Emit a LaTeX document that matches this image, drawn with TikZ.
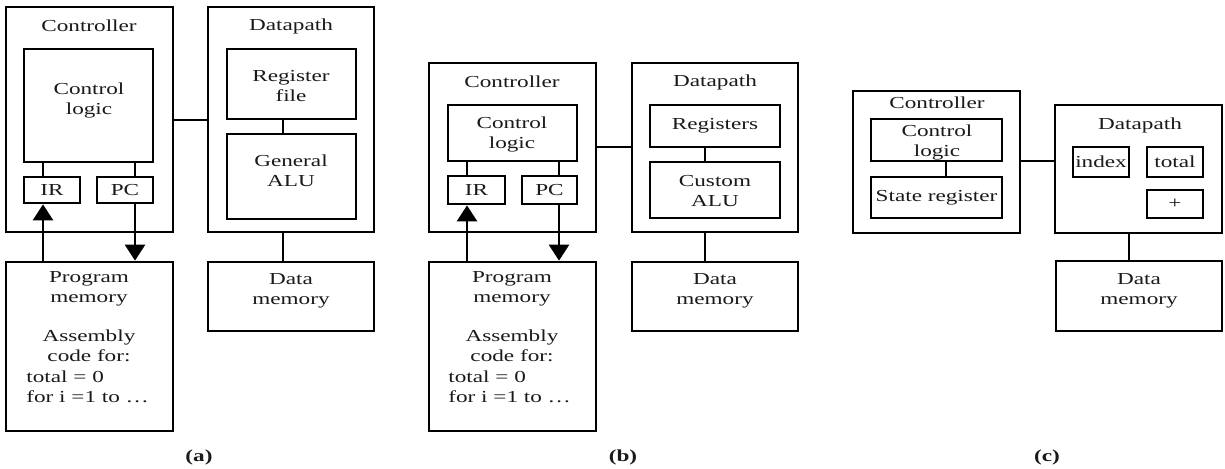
\documentclass[tikz,border=0pt]{standalone}
\usepackage{fontspec}
\setmainfont[FakeStretch=1.38]{Liberation Serif}
\usetikzlibrary{arrows.meta,fit}
\definecolor{ink}{HTML}{1A1A1A}
\begin{document}
\begin{tikzpicture}[x=0.5pt,y=-0.5pt,
  box/.style={draw=black, line width=1.35pt, inner sep=0pt},
  txt/.style={inner sep=0pt, text=ink, font=\fontsize{8.4pt}{10pt}\selectfont, align=center},
  ltxt/.style={txt, align=left, anchor=west},
  lbl/.style={inner sep=0pt, text=ink, font=\fontsize{8.4pt}{10pt}\selectfont\bfseries},
  wire/.style={draw=black, line width=1.3pt},
  arr/.style={wire, -{Triangle[width=10pt,length=8pt]}}]
\fill[white] (0,0) rectangle (1225,468);
\useasboundingbox (0,0) rectangle (1225,468);

% ---------------- (a) ----------------
\node[box, fit={(6,7)(173,232)}] (ctrlA) {};
\node[txt] (ctrlAt) at (89,26) {Controller};
\node[box, fit={(24,49)(153,162)}] (clA) {};
\node[txt] (clAt) at (89,100) {Control\\logic};
\node[box, fit={(24,177)(80,203)}, label={[txt]center:IR}] (irA) {};
\node[box, fit={(97,177)(153,203)}, label={[txt]center:PC}] (pcA) {};
\node[box, fit={(208,7)(374,232)}] (dpA) {};
\node[txt] (dpAt) at (291,26) {Datapath};
\node[box, fit={(227,49)(356,119)}] (rfA) {};
\node[txt] (rfAt) at (291,86) {Register\\file};
\node[box, fit={(227,134)(356,219)}] (aluA) {};
\node[txt] (aluAt) at (291,171) {General\\ALU};
\node[box, fit={(6,262)(173,431)}] (pmA) {};
\node[txt] (pmAt) at (89,289) {Program\\memory};
\node[txt] (pmAc) at (89,346) {Assembly\\code for:};
\node[ltxt] (pmAl) at (26,387) {total = 0\\for i =1 to …};
\node[box, fit={(208,262)(374,331)}] (dmA) {};
\node[txt] (dmAt) at (291,291) {Data\\memory};
\node[lbl] (capA) at (199,457) {(a)};
\coordinate (xIRa) at (43,0);
\coordinate (xPCa) at (135,0);
\coordinate (xDPa) at (283,0);
\coordinate (yCDa) at (0,120);
\draw[wire] (ctrlA.east |- yCDa) -- (dpA.west |- yCDa);
\draw[wire] (clA.south -| xIRa) -- (irA.north -| xIRa);
\draw[wire] (clA.south -| xPCa) -- (pcA.north -| xPCa);
\draw[wire] (rfA.south -| xDPa) -- (aluA.north -| xDPa);
\draw[wire] (dpA.south -| xDPa) -- (dmA.north -| xDPa);
\draw[arr] (pmA.north -| xIRa) -- (irA.south -| xIRa);
\draw[arr] (pcA.south -| xPCa) -- (pmA.north -| xPCa);

% ---------------- (b) ----------------
\node[box, fit={(429,63)(596,232)}] (ctrlB) {};
\node[txt] (ctrlBt) at (512,82) {Controller};
\node[box, fit={(448,105)(577,161)}] (clB) {};
\node[txt] (clBt) at (512,134) {Control\\logic};
\node[box, fit={(448,176)(505,204)}, label={[txt]center:IR}] (irB) {};
\node[box, fit={(522,176)(577,204)}, label={[txt]center:PC}] (pcB) {};
\node[box, fit={(632,63)(798,232)}] (dpB) {};
\node[txt] (dpBt) at (715,82) {Datapath};
\node[box, fit={(650,105)(780,147)}, label={[txt]center:Registers}] (rgB) {};
\node[box, fit={(650,162)(780,218)}] (aluB) {};
\node[txt] (aluBt) at (715,191) {Custom\\ALU};
\node[box, fit={(429,262)(596,431)}] (pmB) {};
\node[txt] (pmBt) at (512,289) {Program\\memory};
\node[txt] (pmBc) at (512,346) {Assembly\\code for:};
\node[ltxt] (pmBl) at (448,387) {total = 0\\for i =1 to …};
\node[box, fit={(632,262)(798,331)}] (dmB) {};
\node[txt] (dmBt) at (715,291) {Data\\memory};
\node[lbl] (capB) at (623,457) {(b)};
\coordinate (xIRb) at (467,0);
\coordinate (xPCb) at (559,0);
\coordinate (xDPb) at (705,0);
\coordinate (yCDb) at (0,147);
\draw[wire] (ctrlB.east |- yCDb) -- (dpB.west |- yCDb);
\draw[wire] (clB.south -| xIRb) -- (irB.north -| xIRb);
\draw[wire] (clB.south -| xPCb) -- (pcB.north -| xPCb);
\draw[wire] (rgB.south -| xDPb) -- (aluB.north -| xDPb);
\draw[wire] (dpB.south -| xDPb) -- (dmB.north -| xDPb);
\draw[arr] (pmB.north -| xIRb) -- (irB.south -| xIRb);
\draw[arr] (pcB.south -| xPCb) -- (pmB.north -| xPCb);

% ---------------- (c) ----------------
\node[box, fit={(853,91)(1020,233)}] (ctrlC) {};
\node[txt] (ctrlCt) at (937,103) {Controller};
\node[box, fit={(871,119)(1002,161)}] (clC) {};
\node[txt] (clCt) at (937,142) {Control\\logic};
\node[box, fit={(871,177)(1002,218)}, label={[txt]center:State register}] (srC) {};
\node[box, fit={(1055,105)(1222,233)}] (dpC) {};
\node[txt] (dpCt) at (1140,125) {Datapath};
\node[box, fit={(1073,147)(1129,177)}, label={[txt]center:index}] (ixC) {};
\node[box, fit={(1147,147)(1203,177)}, label={[txt]center:total}] (totC) {};
\node[box, fit={(1147,190)(1203,218)}, label={[txt]center:+}] (addC) {};
\node[box, fit={(1056,261)(1222,331)}] (dmC) {};
\node[txt] (dmCt) at (1139,291) {Data\\memory};
\node[lbl] (capC) at (1047,457) {(c)};
\coordinate (xSRc) at (946,0);
\coordinate (xDPc) at (1129,0);
\coordinate (yCDc) at (0,161);
\draw[wire] (ctrlC.east |- yCDc) -- (dpC.west |- yCDc);
\draw[wire] (clC.south -| xSRc) -- (srC.north -| xSRc);
\draw[wire] (dpC.south -| xDPc) -- (dmC.north -| xDPc);
\end{tikzpicture}
\end{document}
